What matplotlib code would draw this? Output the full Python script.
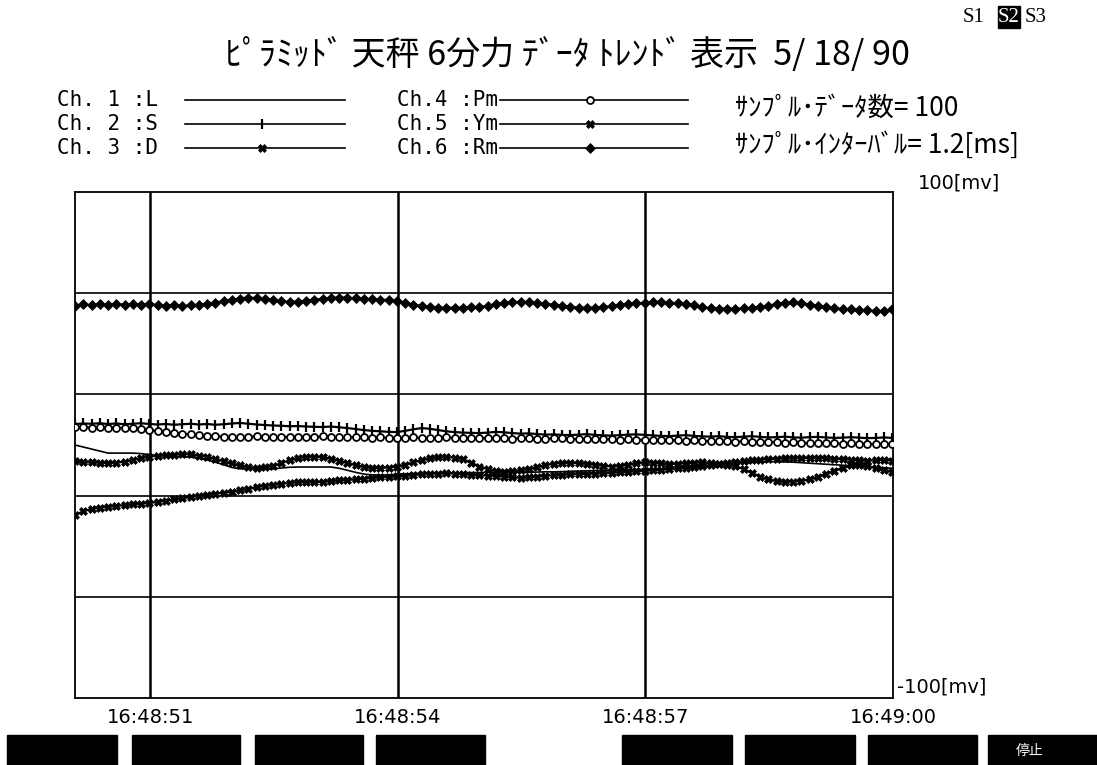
import numpy as np
import matplotlib
matplotlib.use('Agg')
import matplotlib.pyplot as plt
from matplotlib.patches import Rectangle

plt.rcParams['font.family'] = ['Noto Sans CJK JP', 'DejaVu Sans']

# ---------------- data ----------------
TITLE = 'ﾋﾟﾗﾐｯﾄﾞ 天秤 6分力 ﾃﾞｰﾀ ﾄﾚﾝﾄﾞ 表示  5/ 18/ 90'
CHANNEL_LABELS = ['Ch. 1 :L', 'Ch. 2 :S', 'Ch. 3 :D', 'Ch.4 :Pm', 'Ch.5 :Ym', 'Ch.6 :Rm']
INFO_LINES = ['ｻﾝﾌﾟﾙ･ﾃﾞｰﾀ数= 100', 'ｻﾝﾌﾟﾙ･ｲﾝﾀｰﾊﾞﾙ= 1.2[ms]']
TIME_TICKS = [51, 54, 57, 60]
TIME_LABELS = ['16:48:51', '16:48:54', '16:48:57', '16:49:00']
GRID_Y = [-60, -20, 20, 60]
Y_MIN, Y_MAX = -100, 100
Y_LABELS = ['100[mv]', '-100[mv]']
SCREENS = ['S1', 'S2', 'S3']
STOP_LABEL = '停止'
T0, DT = 50.09, 0.1

ch1_L = [0.0, -0.8, -1.6, -2.4, -3.2, -3.2, -3.2, -3.2, -3.4, -3.8,
         -4.2, -4.4, -4.5, -4.6, -4.8, -5.2, -5.9, -6.8, -7.8, -8.9,
         -9.4, -9.5, -9.5, -9.4, -9.4, -9.1, -8.8, -8.7, -8.7, -8.7,
         -8.7, -8.7, -9.2, -10.0, -10.8, -11.5, -11.8, -11.9, -11.8, -11.6,
         -11.4, -11.3, -11.2, -11.2, -11.1, -11.0, -11.0, -11.0, -10.9, -10.9,
         -10.8, -10.8, -10.7, -10.7, -10.8, -10.8, -10.7, -10.6, -10.6, -10.5,
         -10.4, -10.3, -10.2, -10.1, -10.0, -9.9, -9.8, -9.8, -9.7, -9.6,
         -9.5, -9.5, -9.4, -9.3, -9.2, -9.1, -8.9, -8.6, -8.2, -7.8,
         -7.4, -7.0, -6.8, -6.7, -6.6, -6.6, -6.7, -6.8, -7.0, -7.2,
         -7.4, -7.6, -7.8, -8.0, -8.2, -8.4, -8.6, -8.8, -9.0, -9.2]

ch2_S = [8.3, 8.5, 8.4, 8.6, 8.3, 8.5, 8.2, 8.4, 8.6, 8.3,
         8.1, 8.3, 8.0, 8.2, 8.4, 8.1, 8.3, 8.0, 8.2, 8.5,
         8.7, 8.4, 8.1, 7.9, 7.7, 7.6, 7.4, 7.5, 7.3, 7.2,
         7.1, 7.3, 7.0, 6.7, 6.3, 5.9, 5.6, 5.4, 5.2, 5.1,
         5.6, 6.2, 6.7, 6.4, 5.9, 5.4, 5.1, 4.9, 4.8, 4.7,
         4.9, 5.2, 5.0, 4.7, 4.5, 4.6, 4.3, 4.1, 4.2, 4.0,
         3.9, 4.1, 4.3, 4.0, 3.8, 3.7, 3.9, 4.1, 4.2, 4.0,
         3.8, 3.6, 3.5, 3.7, 3.9, 3.6, 3.4, 3.3, 3.5, 3.2,
         3.1, 3.3, 3.5, 3.2, 3.0, 3.1, 3.3, 3.0, 2.9, 3.1,
         3.2, 3.0, 2.8, 2.9, 3.1, 2.9, 2.7, 2.8, 3.0, 2.8]

ch3_D = [-6.5, -6.8, -6.9, -7.0, -7.1, -7.0, -6.6, -5.9, -5.2, -4.6,
         -4.2, -3.9, -3.8, -3.6, -3.7, -4.2, -4.7, -5.5, -6.4, -7.3,
         -8.1, -8.8, -9.0, -8.8, -8.3, -7.2, -6.0, -5.2, -4.8, -4.6,
         -4.9, -5.4, -6.2, -7.1, -8.0, -8.7, -9.1, -9.0, -8.9, -8.6,
         -7.8, -6.9, -5.9, -5.2, -4.9, -4.8, -5.0, -5.6, -7.0, -8.5,
         -9.5, -10.2, -10.5, -10.4, -10.0, -9.5, -8.8, -8.0, -7.4, -7.1,
         -7.0, -7.2, -7.5, -7.8, -8.2, -8.5, -8.3, -7.8, -7.2, -6.9,
         -7.0, -7.3, -7.5, -7.4, -7.2, -7.0, -6.9, -7.1, -7.4, -7.8,
         -8.4, -9.5, -11.0, -12.5, -13.6, -14.3, -14.6, -14.5, -14.2, -13.6,
         -12.6, -11.4, -10.2, -9.0, -8.0, -7.8, -8.4, -9.2, -10.0, -10.6]

ch4_Pm = [7.0, 7.1, 6.9, 7.0, 6.8, 6.9, 6.7, 6.6, 6.3, 5.9,
          5.5, 5.1, 4.8, 4.5, 4.2, 4.0, 3.7, 3.5, 3.3, 3.2,
          3.1, 3.2, 3.4, 3.2, 3.0, 3.1, 3.3, 3.2, 3.0, 3.2,
          3.4, 3.3, 3.1, 3.0, 3.2, 3.1, 2.9, 3.0, 2.8, 2.8,
          2.9, 3.0, 2.8, 2.7, 2.9, 3.0, 2.8, 2.7, 2.9, 2.8,
          2.6, 2.8, 2.7, 2.5, 2.7, 2.6, 2.4, 2.5, 2.7, 2.6,
          2.4, 2.3, 2.5, 2.4, 2.2, 2.3, 2.1, 2.2, 2.0, 2.1,
          2.0, 1.9, 2.1, 1.8, 1.7, 1.9, 1.6, 1.5, 1.7, 1.4,
          1.3, 1.5, 1.2, 1.1, 1.3, 1.0, 0.9, 1.1, 0.8, 0.9,
          0.7, 0.8, 0.6, 0.5, 0.7, 0.4, 0.5, 0.3, 0.4, 0.4]

ch5_Ym = [-27.7, -26.2, -25.3, -24.8, -24.4, -24.1, -23.8, -23.5, -23.2, -22.9,
          -22.5, -22.0, -21.5, -21.0, -20.6, -20.1, -19.7, -19.3, -18.9, -18.4,
          -17.9, -17.4, -16.6, -16.2, -15.8, -15.4, -15.0, -14.7, -14.6, -14.8,
          -14.5, -14.3, -14.0, -13.8, -13.6, -13.3, -13.0, -12.8, -12.6, -12.4,
          -12.2, -11.9, -11.6, -11.4, -11.3, -11.2, -11.3, -11.5, -11.8, -12.0,
          -12.1, -12.2, -12.5, -12.8, -13.0, -12.8, -12.5, -12.2, -12.0, -11.8,
          -11.6, -11.5, -11.4, -11.3, -11.2, -11.0, -10.8, -10.6, -10.4, -10.2,
          -10.0, -9.8, -9.5, -9.2, -8.9, -8.6, -8.3, -8.0, -7.6, -7.2,
          -6.8, -6.4, -6.1, -5.8, -5.6, -5.4, -5.3, -5.2, -5.1, -5.2,
          -5.0, -5.3, -5.5, -5.6, -5.8, -6.0, -6.3, -6.0, -5.8, -6.2]

ch6_Rm = [55.0, 55.6, 55.2, 55.7, 55.3, 55.8, 55.4, 55.7, 55.5, 55.8,
          55.2, 55.0, 55.3, 54.9, 55.2, 55.4, 55.8, 56.3, 56.9, 57.4,
          57.9, 58.3, 58.0, 57.6, 57.2, 56.8, 56.5, 56.7, 57.0, 57.4,
          57.8, 58.1, 58.3, 58.2, 58.0, 57.8, 57.6, 57.4, 57.3, 57.0,
          56.2, 55.5, 55.0, 54.5, 54.3, 54.2, 54.3, 54.2, 54.4, 54.6,
          55.0, 55.6, 56.0, 56.4, 56.6, 56.4, 56.2, 55.8, 55.4, 55.0,
          54.6, 54.3, 54.2, 54.3, 54.5, 54.9, 55.3, 55.7, 56.0, 56.1,
          56.5, 56.6, 56.3, 56.0, 55.7, 55.2, 54.5, 54.0, 53.8, 53.9,
          53.8, 54.0, 54.2, 54.6, 55.1, 55.7, 56.2, 56.5, 56.1, 55.5,
          55.0, 54.5, 54.0, 53.8, 53.6, 53.4, 53.2, 53.0, 52.8, 53.6]

SERIES = [ch1_L, ch2_S, ch3_D, ch4_Pm, ch5_Ym, ch6_Rm]

# ---------------- styles ----------------
STYLES = [
    dict(marker=None, lw=1.2),
    dict(marker='|', ms=7, mew=1.6, lw=1.6),
    dict(marker='X', ms=6, mew=0.5, lw=1.6),
    dict(marker='o', ms=5, mfc='white', mew=1.3, lw=1.4),
    dict(marker='X', ms=6, mew=0.5, lw=1.6),
    dict(marker='D', ms=5.5, mew=0.5, lw=1.6),
]

W, H = 1097, 765
fig = plt.figure(figsize=(W / 100, H / 100), dpi=100)
fig.patch.set_facecolor('white')

ax = fig.add_axes([75 / W, 1 - 698 / H, 818 / W, 506 / H])
t = T0 + DT * np.arange(len(ch1_L))
for vals, st in zip(SERIES, STYLES):
    ax.plot(t, vals, color='black', mfc=st.get('mfc', 'black'), mec='black',
            marker=st['marker'], ms=st.get('ms', 0), mew=st.get('mew', 1),
            lw=st['lw'], zorder=3)

ax.set_xlim(T0, TIME_TICKS[-1])
ax.set_ylim(Y_MIN, Y_MAX)
ax.set_xticks(TIME_TICKS)
ax.set_xticklabels(TIME_LABELS, fontsize=14, family=['DejaVu Sans'])
ax.tick_params(axis='x', length=0, pad=7)
ax.set_yticks(GRID_Y)
ax.set_yticklabels([])
ax.tick_params(axis='y', length=0)
for tt in TIME_TICKS[:-1]:
    ax.axvline(tt, color='black', lw=1.8, zorder=2)
for yy in GRID_Y:
    ax.axhline(yy, color='black', lw=1.2, zorder=2)
for s in ax.spines.values():
    s.set_linewidth(1.3)
    s.set_color('black')

# ---------------- overlay (pixel coordinates) ----------------
ov = fig.add_axes([0, 0, 1, 1], zorder=5)
ov.set_xlim(0, W)
ov.set_ylim(H, 0)
ov.axis('off')
ov.patch.set_visible(False)

ov.text(567, 55, TITLE, fontsize=24.5, ha='center', va='center',
        family=['Noto Sans CJK JP', 'DejaVu Sans'])

# screen selector
sx = [974, 1009, 1036]
for i, (lab, x) in enumerate(zip(SCREENS, sx)):
    if i == 1:
        ov.add_patch(Rectangle((x - 11, 6), 22, 22, color='black'))
        ov.text(x, 17, lab, fontsize=15, ha='center', va='center', color='white',
                family=['Liberation Serif'])
    else:
        ov.text(x, 17, lab, fontsize=15, ha='center', va='center',
                family=['Liberation Serif'])

# legend
rows_y = [100, 124, 148]
cols = [(57, 185, 345, 262), (397, 500, 688, 590)]
for k, (lab, st) in enumerate(zip(CHANNEL_LABELS, STYLES)):
    c = cols[k // 3]
    y = rows_y[k % 3]
    ov.text(c[0], y, lab, fontsize=15, ha='left', va='center',
            family=['DejaVu Sans Mono'])
    ov.plot([c[1], c[2]], [y, y], color='black', lw=1.2)
    if st['marker'] is not None:
        ov.plot([c[3]], [y], color='black', marker=st['marker'],
                ms=st.get('ms', 5), mew=st.get('mew', 1),
                mfc=st.get('mfc', 'black'), mec='black')

# info text
ov.text(735, 108, INFO_LINES[0], fontsize=19, ha='left', va='center')
ov.text(735, 145, INFO_LINES[1], fontsize=19, ha='left', va='center')

# y range labels
ov.text(918, 183, Y_LABELS[0], fontsize=14, ha='left', va='center', family=['DejaVu Sans'])
ov.text(897, 687, Y_LABELS[1], fontsize=14, ha='left', va='center', family=['DejaVu Sans'])

# function key buttons
buttons = [(7, 117), (132, 240), (255, 363), (376, 485),
           (622, 732), (745, 855), (868, 977), (988, 1097)]
for x0, x1 in buttons:
    ov.add_patch(Rectangle((x0, 735), x1 - x0, 30, color='black'))
ov.text(1030, 751, STOP_LABEL, fontsize=10, color='white', ha='center', va='center')

fig.savefig('out.png', dpi=100)
